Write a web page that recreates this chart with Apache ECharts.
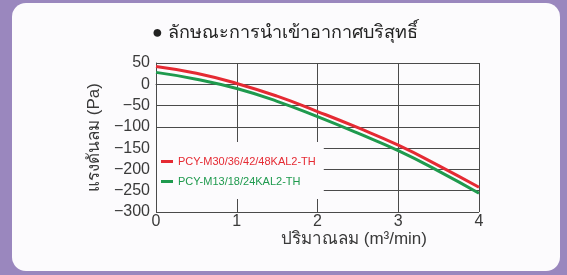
<!DOCTYPE html>
<html>
<head>
<meta charset="utf-8">
<script src="https://cdn.jsdelivr.net/npm/echarts@6/dist/echarts.min.js"></script>
<style>
  html, body { margin: 0; padding: 0; background: #9a87be; }
  #wrap { position: absolute; left: 12px; top: 3px; width: 548px; height: 268px; background: #fcfbfd; border-radius: 14px; }
  #chart { position: absolute; left: 0; top: 0; width: 567px; height: 275px; }
</style>
</head>
<body>
<div id="wrap"></div>
<div id="chart"></div>
<script>
var xValues = [0, 0.5, 1, 1.5, 2, 2.5, 3, 3.5, 4];
var seriesNames = ["PCY-M30/36/42/48KAL2-TH", "PCY-M13/18/24KAL2-TH"];
var redValues = [42, 26, 2, -28, -64, -102, -143, -191, -242];
var greenValues = [28, 12, -10, -40, -76, -115, -156, -204, -256];
var colors = ["#e52a33", "#1f9a4e"];
var yTicks = { min: -300, max: 50, step: 50 };
var xTicks = { min: 0, max: 4, step: 1 };

var myChart = echarts.init(document.getElementById("chart"));
var textColor = "#3a3a3a";
var font = "Liberation Sans, Arial, sans-serif";

function pairs(vals) {
  return xValues.map(function (x, i) { return [x, vals[i]]; });
}

var option = {
  backgroundColor: "transparent",
  textStyle: { fontFamily: font },
  grid: { left: 156, right: 88, top: 63, bottom: 63 },
  graphic: [
    {
      type: "text", left: 152, top: 24,
      style: { text: "● ลักษณะการนำเข้าอากาศบริสุทธิ์", fontSize: 18, fill: "#222", fontFamily: font }
    },
    {
      type: "text", left: 281, top: 231,
      style: { text: "ปริมาณลม (m³/min)", fontSize: 17, fill: textColor, fontFamily: font }
    }
  ],
  legend: {
    orient: "vertical",
    left: 157, top: 142,
    padding: [14, 8, 12, 4],
    itemGap: 9,
    itemWidth: 12, itemHeight: 3,
    backgroundColor: "#fcfbfd",
    icon: "rect",
    textStyle: { fontSize: 11, fontFamily: font },
    data: [
      { name: seriesNames[0], textStyle: { color: colors[0] } },
      { name: seriesNames[1], textStyle: { color: colors[1] } }
    ]
  },
  xAxis: {
    type: "value",
    min: xTicks.min, max: xTicks.max, interval: xTicks.step,
    axisLine: { show: true, lineStyle: { color: "#4a4a4a", width: 1 } },
    axisTick: { show: false },
    splitLine: { show: true, lineStyle: { color: "#4a4a4a", width: 1 } },
    axisLabel: { color: textColor, fontSize: 16, margin: 2 }
  },
  yAxis: {
    type: "value",
    min: yTicks.min, max: yTicks.max, interval: yTicks.step,
    name: "แรงดันลม (Pa)",
    nameLocation: "middle",
    nameGap: 52,
    nameTextStyle: { color: textColor, fontSize: 17 },
    axisLine: { show: true, lineStyle: { color: "#4a4a4a", width: 1 } },
    axisTick: { show: false },
    splitLine: { show: true, lineStyle: { color: "#4a4a4a", width: 1 } },
    axisLabel: {
      color: textColor, fontSize: 16, margin: 6,
      formatter: function (v) { return String(v).replace("-", "\u2212"); }
    }
  },
  series: [
    {
      name: seriesNames[0], type: "line", smooth: true, showSymbol: false,
      data: pairs(redValues), z: 3,
      lineStyle: { color: colors[0], width: 3 }, itemStyle: { color: colors[0] }
    },
    {
      name: seriesNames[1], type: "line", smooth: true, showSymbol: false,
      data: pairs(greenValues), z: 3,
      lineStyle: { color: colors[1], width: 3 }, itemStyle: { color: colors[1] }
    }
  ]
};
myChart.setOption(option, true);
</script>
</body>
</html>
